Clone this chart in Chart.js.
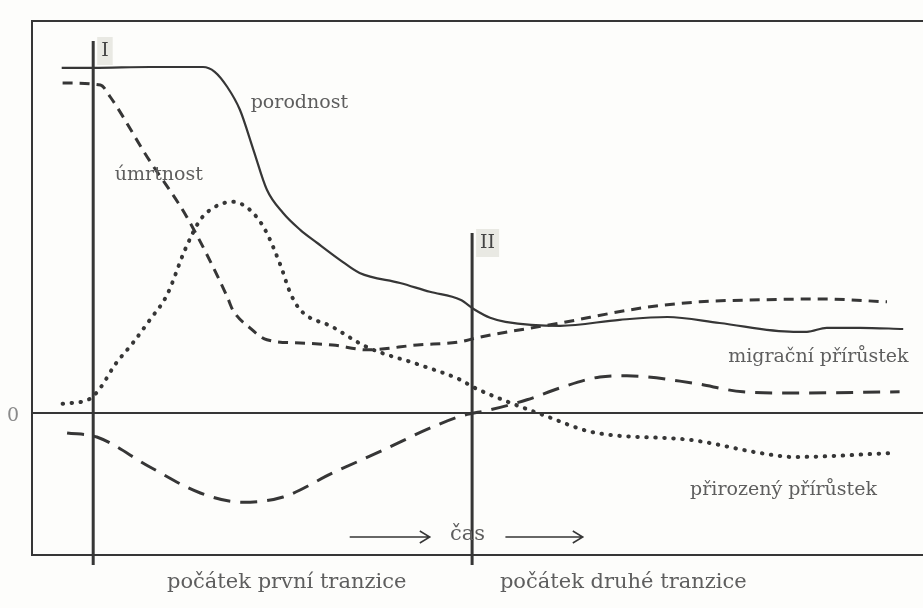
<!DOCTYPE html>
<html>
<head>
<meta charset="utf-8">
<script src="https://cdn.jsdelivr.net/npm/chart.js@4.4.1/dist/chart.umd.min.js"></script>
<style>
  html, body { margin: 0; padding: 0; background: #fdfdfb; }
  #wrap { width: 923px; height: 608px; position: relative; }
</style>
</head>
<body>
<div id="wrap"><canvas id="chart"></canvas></div>
<script>
// time axis (abstract units) and series values
const porodnostT = [3.3, 6.8, 13.1, 19.0, 20.3, 21.7, 23.1, 24.6, 26.1, 27.9, 29.8, 31.7, 34.2, 36.4, 40.9, 44.2, 47.6, 49.2, 50.9, 52.6, 58.7, 65.3, 70.6, 76.4, 84.6, 86.1, 88.3, 92.0, 96.8];
const porodnost  = [86.3, 86.3, 86.5, 86.5, 85.3, 81.5, 75.8, 65.8, 55.8, 50.0, 45.8, 42.5, 38.3, 35.0, 32.5, 30.3, 28.3, 25.8, 23.8, 22.8, 21.8, 23.3, 24.0, 22.5, 20.3, 20.3, 21.3, 21.3, 21.0];

const umrtnostT = [3.4, 7.6, 8.7, 12.8, 17.2, 21.7, 22.3, 24.2, 26.1, 29.8, 33.4, 37.2, 42.8, 47.6, 49.4, 58.7, 67.9, 74.2, 80.9, 87.6, 95.0];
const umrtnost  = [82.5, 82.0, 79.0, 64.0, 49.0, 29.0, 25.8, 21.3, 18.3, 17.5, 17.0, 15.8, 17.0, 17.8, 18.8, 22.5, 26.3, 27.8, 28.3, 28.5, 27.8];

const prirozenyT = [3.4, 6.4, 7.6, 9.2, 11.2, 13.1, 15.0, 17.0, 18.7, 20.3, 22.3, 24.2, 25.9, 27.6, 28.7, 29.8, 33.4, 37.2, 43.1, 47.6, 49.0, 52.3, 56.8, 62.3, 73.4, 80.9, 84.6, 95.7];
const prirozeny  = [2.3, 3.5, 6.3, 12.0, 17.5, 23.3, 29.5, 40.8, 48.3, 51.5, 52.8, 50.8, 45.8, 37.0, 30.0, 25.8, 21.5, 16.5, 12.0, 8.3, 6.5, 3.3, -0.5, -4.8, -6.8, -10.0, -11.0, -10.0];

const migracniT = [3.9, 7.2, 13.1, 18.7, 23.4, 27.9, 33.4, 39.0, 44.2, 47.6, 50.9, 55.0, 58.7, 63.1, 66.1, 73.4, 79.0, 84.6, 96.4];
const migracni  = [-5.0, -6.0, -13.5, -20.0, -22.3, -21.0, -15.0, -9.3, -3.8, -0.8, 0.8, 3.3, 6.3, 9.0, 9.3, 7.5, 5.3, 5.0, 5.3];

// transition markers and text labels (in data units)
const markers = [
  { t: 6.8, top: 93, label: 'I' },
  { t: 48.9, top: 45, label: 'II' }
];
const labels = [
  { text: 'porodnost', t: 24.3, v: 77.5, align: 'left', size: 19 },
  { text: 'úmrtnost', t: 9.2, v: 59.5, align: 'left', size: 19 },
  { text: 'migrační přírůstek', t: 97.4, v: 14, align: 'right', size: 19 },
  { text: 'přirozený přírůstek', t: 83.5, v: -19.2, align: 'center', size: 19 },
  { text: 'čas', t: 48.4, v: -30.5, align: 'center', size: 21 },
  { text: 'počátek první tranzice', t: 28.3, v: -42.5, align: 'center', size: 21 },
  { text: 'počátek druhé tranzice', t: 65.7, v: -42.5, align: 'center', size: 21 }
];

const toXY = (xs, ys) => xs.map((x, i) => ({ x: x, y: ys[i] }));
const ink = '#363636';
const textInk = '#5e5e5e';
const fontOf = size => `${size}px "DejaVu Serif", "Liberation Serif", serif`;

const figurePlugin = {
  id: 'figure',
  beforeDatasetsDraw(chart) {
    const { ctx, chartArea: a, scales: { x, y } } = chart;
    ctx.save();
    ctx.strokeStyle = ink;
    ctx.lineWidth = 2;
    ctx.beginPath();
    ctx.moveTo(chart.width, a.top); ctx.lineTo(a.left, a.top);
    ctx.lineTo(a.left, a.bottom); ctx.lineTo(chart.width, a.bottom);
    ctx.stroke();
    // zero line
    ctx.beginPath();
    ctx.moveTo(a.left, y.getPixelForValue(0));
    ctx.lineTo(chart.width, y.getPixelForValue(0));
    ctx.stroke();
    ctx.fillStyle = '#8a8a8a';
    ctx.font = fontOf(19);
    ctx.textAlign = 'center';
    ctx.textBaseline = 'middle';
    ctx.fillText('0', a.left - 19, y.getPixelForValue(0) + 3);
    ctx.restore();
  },
  afterDatasetsDraw(chart) {
    const { ctx, chartArea: a, scales: { x, y } } = chart;
    ctx.save();
    markers.forEach(m => {
      const px = x.getPixelForValue(m.t);
      const top = y.getPixelForValue(m.top);
      // label box
      ctx.font = fontOf(19);
      const w = ctx.measureText(m.label).width + 8;
      ctx.fillStyle = '#e9e9e3';
      ctx.fillRect(px + 4, top - 4, w, 28);
      ctx.fillStyle = '#444';
      ctx.textAlign = 'left';
      ctx.textBaseline = 'middle';
      ctx.fillText(m.label, px + 8, top + 10);
      ctx.strokeStyle = ink;
      ctx.lineWidth = 3;
      ctx.beginPath();
      ctx.moveTo(px, top);
      ctx.lineTo(px, a.bottom + 10);
      ctx.stroke();
    });
    ctx.fillStyle = textInk;
    ctx.textBaseline = 'middle';
    labels.forEach(l => {
      ctx.font = fontOf(l.size);
      ctx.textAlign = l.align;
      ctx.fillText(l.text, x.getPixelForValue(l.t), y.getPixelForValue(l.v));
    });
    // time arrows around "čas"
    const ay = y.getPixelForValue(-31);
    const arrow = (x0, x1) => {
      ctx.beginPath();
      ctx.moveTo(x0, ay); ctx.lineTo(x1, ay);
      ctx.moveTo(x1 - 10, ay - 6); ctx.lineTo(x1, ay); ctx.lineTo(x1 - 10, ay + 6);
      ctx.stroke();
    };
    ctx.strokeStyle = ink;
    ctx.lineWidth = 1.5;
    arrow(x.getPixelForValue(35.3), x.getPixelForValue(44.2));
    arrow(x.getPixelForValue(52.6), x.getPixelForValue(61.2));
    ctx.restore();
  }
};

const line = (label, data, dash, width, cap) => ({
  label, data,
  borderColor: ink,
  borderWidth: width,
  borderDash: dash,
  borderCapStyle: cap,
  pointRadius: 0,
  fill: false,
  cubicInterpolationMode: 'monotone'
});

new Chart(document.getElementById('chart'), {
  type: 'line',
  data: {
    datasets: [
      line('porodnost', toXY(porodnostT, porodnost), [], 2.2, 'butt'),
      line('úmrtnost', toXY(umrtnostT, umrtnost), [10, 7], 3, 'butt'),
      line('přirozený přírůstek', toXY(prirozenyT, prirozeny), [0.5, 8.5], 4, 'round'),
      line('migrační přírůstek', toXY(migracniT, migracni), [17, 10], 3, 'butt')
    ]
  },
  options: {
    responsive: true,
    maintainAspectRatio: false,
    animation: false,
    layout: { padding: { left: 32, top: 21, right: 0, bottom: 53 } },
    scales: {
      x: { type: 'linear', min: 0, max: 99, display: false },
      y: { min: -35.5, max: 98, display: false }
    },
    plugins: { legend: { display: false }, tooltip: { enabled: false } }
  },
  plugins: [figurePlugin]
});
</script>
</body>
</html>
